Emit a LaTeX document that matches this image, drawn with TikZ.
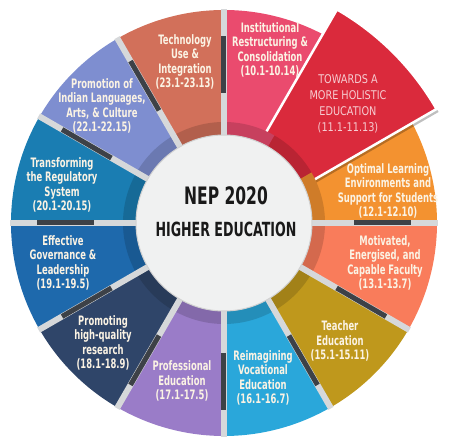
\documentclass[tikz,border=0pt]{standalone}
\usepackage{xcolor}
\usepackage{fontspec}
\usepackage{tikz}
\newfontfamily\wheelfont[FakeStretch=0.72]{DejaVu Sans Condensed}
\newfontfamily\holifont[FakeStretch=0.9]{DejaVu Sans Condensed}

\definecolor{techcol}{HTML}{D2705A}
\definecolor{instcol}{HTML}{EA4B6E}
\definecolor{holicol}{HTML}{DA2A3C}
\definecolor{optcol}{HTML}{F39230}
\definecolor{motcol}{HTML}{F97C5B}
\definecolor{teachcol}{HTML}{BF981C}
\definecolor{vocacol}{HTML}{2AA7DA}
\definecolor{profcol}{HTML}{9A7CC8}
\definecolor{rescol}{HTML}{2F4569}
\definecolor{govcol}{HTML}{1E69AC}
\definecolor{regcol}{HTML}{1A7DB2}
\definecolor{langcol}{HTML}{7E8ED0}
\definecolor{gapcol}{HTML}{D6D8DA}
\definecolor{barcol}{HTML}{3D4147}
\definecolor{hubcol}{HTML}{F0F1F1}
\definecolor{labtext}{HTML}{FBF3E4}
\definecolor{holitext}{HTML}{F6CDD2}

\begin{document}
\begin{tikzpicture}[x=1pt,y=1pt,
  gapline/.style={line width=6pt,draw=gapcol},
  barline/.style={line width=5pt,draw=barcol},
  sectlabel/.style={text=labtext,align=center,inner sep=0pt,
    font=\wheelfont\bfseries\fontsize{13}{14.3}\selectfont}]
\useasboundingbox (-224,-223) rectangle (226,223);
% wheel sectors
\foreach \a/\c in {90/techcol,60/instcol,0/optcol,-30/motcol,-60/teachcol,-90/vocacol,
  -120/profcol,-150/rescol,180/govcol,150/regcol,120/langcol}
  \fill[\c] (0,0) -- (\a:213) arc (\a:\a+30:213) -- cycle;
% pulled out sector
\fill[black,opacity=0.25] (-21,-25) -- ++(30:272) arc (30:60:272) -- cycle;
\filldraw[fill=holicol,draw=white,line width=2.5pt] (-23,-22) -- ++(30:272) arc (30:60:272) -- cycle;
% inner ring
\foreach \a/\c in {90/techcol,60/instcol,30/holicol,0/optcol,-30/motcol,-60/teachcol,-90/vocacol,
  -120/profcol,-150/rescol,180/govcol,150/regcol,120/langcol}
  \fill[\c!85!black] (\a:101) arc (\a:\a+30:101) -- (\a+30:88) arc (\a+30:\a:88) -- cycle;
% separators
\foreach \a in {0,90,120,150,180,210,240,270,300,330}{
  \draw[gapline] (\a:88) -- (\a:214);
  \draw[barline] (\a:130) -- (\a:187);
}
\node[circle,minimum size=176pt,fill=hubcol,draw=black!18,line width=1pt] (hub) at (0,0) {};
\node[font=\wheelfont\bfseries\fontsize{24}{26}\selectfont,text=black!90] (nep) at (2,27) {NEP 2020};
\node[font=\wheelfont\bfseries\fontsize{19.5}{22}\selectfont,text=black!90] (hied) at (2,-6) {HIGHER EDUCATION};
% labels
\node[sectlabel] (tech) at (-39,161) {Technology\\Use \&\\Integration\\(23.1-23.13)};
\node[sectlabel] (inst) at (46,173) {Institutional\\Restructuring \&\\Consolidation\\(10.1-10.14)};
\node[align=center,inner sep=0pt,text=holitext,font=\holifont\fontsize{12}{16}\selectfont] (holi) at (124,119)
  {TOWARDS A\\MORE HOLISTIC\\EDUCATION\\(11.1-11.13)};
\node[sectlabel] (opt) at (164,32) {Optimal Learning\\Environments and\\Support for Students\\(12.1-12.10)};
\node[sectlabel] (mot) at (161,-40) {Motivated,\\Energised, and\\Capable Faculty\\(13.1-13.7)};
\node[sectlabel] (teach) at (116,-118) {Teacher\\Education\\(15.1-15.11)};
\node[sectlabel] (voca) at (39,-155) {Reimagining\\Vocational\\Education\\(16.1-16.7)};
\node[sectlabel] (prof) at (-42,-158) {Professional\\Education\\(17.1-17.5)};
\node[sectlabel] (res) at (-121,-120) {Promoting\\high-quality\\research\\(18.1-18.9)};
\node[sectlabel] (gov) at (-161,-40) {Effective\\Governance \&\\Leadership\\(19.1-19.5)};
\node[sectlabel] (reg) at (-162,38) {Transforming\\the Regulatory\\System\\(20.1-20.15)};
\node[sectlabel] (lang) at (-122,117) {Promotion of\\Indian Languages,\\Arts, \& Culture\\(22.1-22.15)};
\end{tikzpicture}
\end{document}
